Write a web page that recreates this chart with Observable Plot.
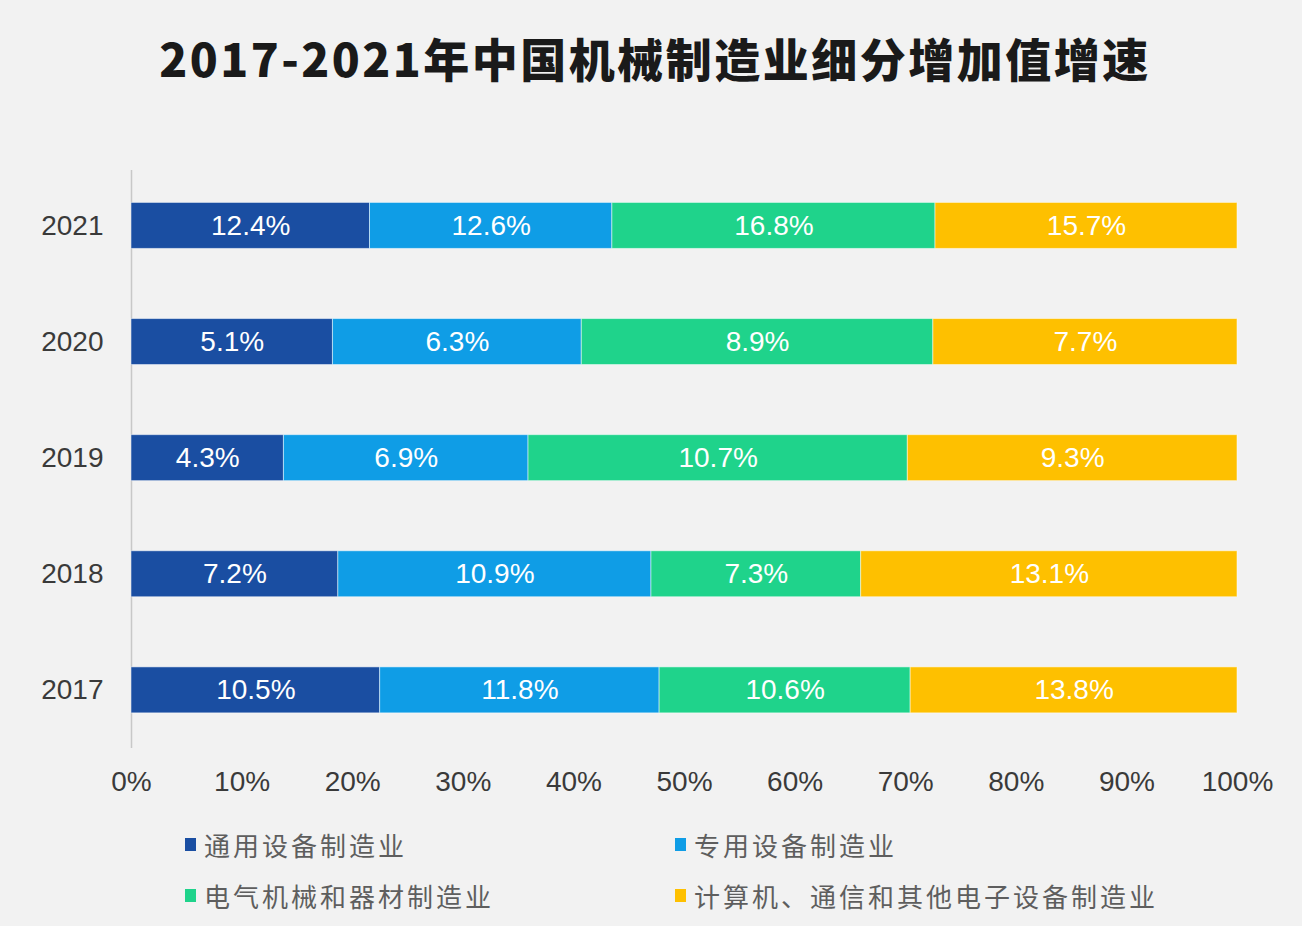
<!DOCTYPE html>
<html><head><meta charset="utf-8">
<script src="https://cdn.jsdelivr.net/npm/d3@7"></script>
<script src="https://cdn.jsdelivr.net/npm/@observablehq/plot@0.6"></script>
<style>
body{margin:0;background:#f2f2f2;}
#wrap{position:relative;width:1302px;height:926px;background:#f2f2f2;overflow:hidden}
#title{position:absolute;left:4px;top:0;width:1302px;height:114px;line-height:114px;text-align:center;font-family:"Noto Sans CJK SC",sans-serif;font-weight:900;font-size:46px;letter-spacing:2.5px;color:#1a1a1a;white-space:nowrap}
#chart{position:absolute;left:0;top:115px}
.lg{position:absolute;font-family:"Noto Sans CJK SC",sans-serif;font-size:26px;color:#5e5e5e;letter-spacing:3px;display:flex;align-items:center;height:40px;white-space:nowrap}
.sw{width:11px;height:13px;margin-right:8px;flex:none}
</style></head>
<body><div id="wrap">
<div id="title">2017-2021年中国机械制造业细分增加值增速</div>
<div id="chart"></div>
<div id="legend"></div>
</div>
<script>
const years = ["2021","2020","2019","2018","2017"];
const series = ["通用设备制造业","专用设备制造业","电气机械和器材制造业","计算机、通信和其他电子设备制造业"];
const general = [12.4, 5.1, 4.3, 7.2, 10.5];
const special = [12.6, 6.3, 6.9, 10.9, 11.8];
const electrical = [16.8, 8.9, 10.7, 7.3, 10.6];
const computer = [15.7, 7.7, 9.3, 13.1, 13.8];
const colors = ["#1a4ea2", "#0f9de6", "#1fd38b", "#fec000"];
const xTicks = [0, 0.1, 0.2, 0.3, 0.4, 0.5, 0.6, 0.7, 0.8, 0.9, 1];

const seriesValues = [general, special, electrical, computer];
const rows = [];
years.forEach((y, i) => {
  series.forEach((s, j) => rows.push({year: y, series: s, value: seriesValues[j][i]}));
});

const chart = Plot.plot({
  width: 1302,
  height: 710,
  marginLeft: 131,
  marginRight: 65,
  marginTop: 55,
  marginBottom: 77,
  style: {background: "transparent", fontFamily: "'Liberation Sans', Arial, sans-serif", fontSize: "28px", color: "#3a3a3a"},
  x: {domain: [0, 1], ticks: xTicks, tickFormat: d3.format(".0%"), tickSize: 0, tickPadding: 23, label: null},
  y: {domain: years, label: null, tickSize: 0, tickPadding: 28, paddingInner: 0.604, paddingOuter: 0.291, align: 0.48, round: false},
  color: {domain: series, range: colors},
  marks: [
    Plot.ruleX([0], {stroke: "#c8c8c8", strokeWidth: 1.5}),
    Plot.barX(rows, Plot.stackX({x: "value", y: "year", fill: "series", offset: "normalize", stroke: "white", strokeWidth: 1, strokeOpacity: 0.5})),
    Plot.text(rows, Plot.stackX({x: "value", y: "year", z: "series", offset: "normalize", text: d => d.value.toFixed(1) + "%", fill: "white", fontSize: 28}))
  ]
});
document.getElementById("chart").appendChild(chart);

const legend = document.getElementById("legend");
const pos = [[185, 824], [675, 824], [185, 875], [675, 875]];
series.forEach((s, i) => {
  const d = document.createElement("div");
  d.className = "lg";
  d.style.left = pos[i][0] + "px";
  d.style.top = pos[i][1] + "px";
  const sw = document.createElement("span");
  sw.className = "sw";
  sw.style.background = colors[i];
  const t = document.createElement("span");
  t.textContent = s;
  d.appendChild(sw); d.appendChild(t);
  legend.appendChild(d);
});
</script>
</body></html>
